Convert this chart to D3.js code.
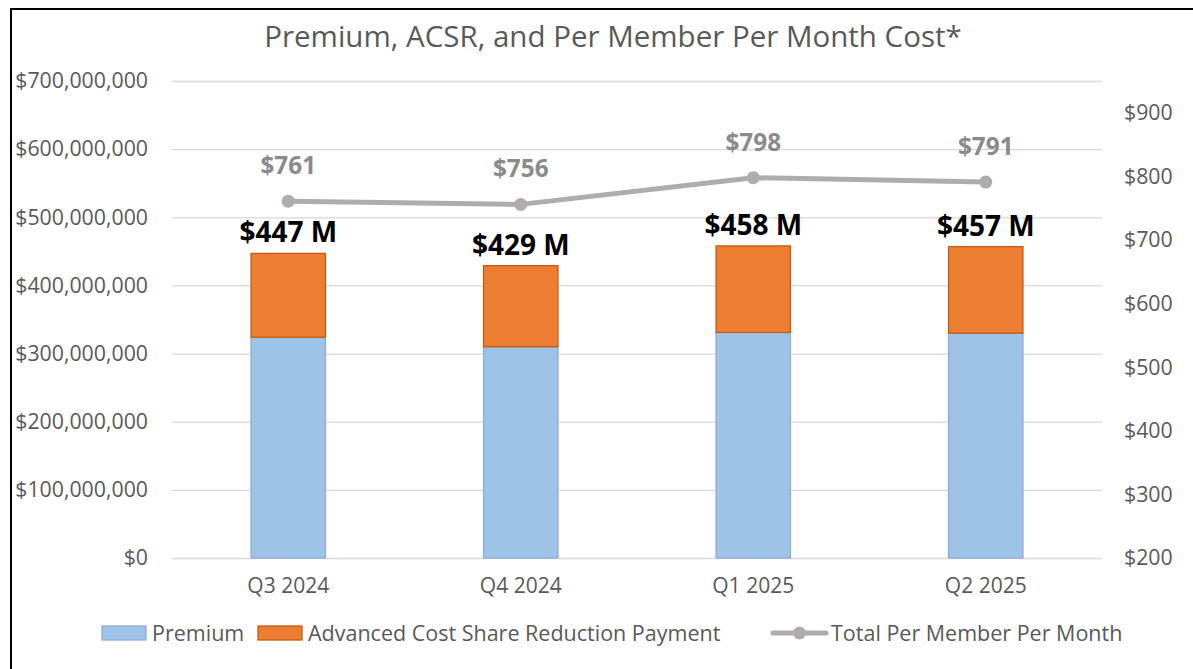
<!DOCTYPE html>
<html>
<head>
<meta charset="utf-8">
<script src="https://cdn.jsdelivr.net/npm/d3@7"></script>
<style>
    body { margin: 0; background: #fff; }
    svg text { font-family: "Open Sans", "Noto Sans", sans-serif; }
</style>
</head>
<body>
<div id="chart"></div>
<script>
// Data
const quarters = ["Q3 2024", "Q4 2024", "Q1 2025", "Q2 2025"];
const premium = [324e6, 310e6, 331e6, 330e6];
const acsr = [123e6, 119e6, 127e6, 127e6];
const totalLabels = ["$447 M", "$429 M", "$458 M", "$457 M"];
const pmpm = [761, 756, 798, 791];
const leftTicks = [0, 1e8, 2e8, 3e8, 4e8, 5e8, 6e8, 7e8];
const rightTicks = [200, 300, 400, 500, 600, 700, 800, 900];

const width = 1193, height = 669;
const margin = { top: 81, right: 91, bottom: 111, left: 172 };

const colors = {
    premium: "#9DC3E6", premiumStroke: "#8FAADC",
    acsr: "#ED7D31", acsrStroke: "#C55A11",
    line: "#B0ACAC", lineLabel: "#8C8A8A",
    text: "#595959", grid: "#D9D9D9"
};

const svg = d3.select("#chart").append("svg")
    .attr("width", width)
    .attr("height", height);

// frame
svg.append("rect")
    .attr("x", 11).attr("y", 9)
    .attr("width", width + 10).attr("height", height + 10)
    .attr("fill", "none")
    .attr("stroke", "#000")
    .attr("stroke-width", 2);

const x = d3.scaleBand()
    .domain(quarters)
    .range([margin.left, width - margin.right])
    .paddingInner(0.68)
    .paddingOuter(0.34);

const y = d3.scaleLinear()
    .domain([0, 7e8])
    .range([height - margin.bottom, margin.top]);

const y2 = d3.scaleLinear()
    .domain([200, 950])
    .range([height - margin.bottom, margin.top]);

// title
svg.append("text")
    .attr("x", 613).attr("y", 47)
    .attr("text-anchor", "middle")
    .attr("font-size", 29.5)
    .attr("fill", colors.text)
    .text("Premium, ACSR, and Per Member Per Month Cost*");

// gridlines + left axis
const fmtLeft = d => "$" + d3.format(",")(d);
svg.append("g")
    .attr("transform", `translate(${margin.left},0)`)
    .call(d3.axisLeft(y).tickValues(leftTicks).tickFormat(fmtLeft)
        .tickSize(-(width - margin.left - margin.right)).tickPadding(24))
    .call(g => g.select(".domain").remove())
    .call(g => g.selectAll(".tick line").attr("stroke", colors.grid).attr("stroke-width", 1.3))
    .call(g => g.selectAll(".tick text").attr("font-size", 21.3).attr("fill", colors.text));

// right axis
svg.append("g")
    .attr("transform", `translate(${width - margin.right},0)`)
    .call(d3.axisRight(y2).tickValues(rightTicks).tickFormat(d => "$" + d)
        .tickSize(0).tickPadding(22))
    .call(g => g.select(".domain").remove())
    .call(g => g.selectAll(".tick text").attr("font-size", 21.3).attr("fill", colors.text));

// bottom axis
svg.append("g")
    .attr("transform", `translate(0,${height - margin.bottom})`)
    .call(d3.axisBottom(x).tickSize(0).tickPadding(20))
    .call(g => g.select(".domain").remove())
    .call(g => g.selectAll(".tick text").attr("font-size", 21).attr("fill", colors.text));

// bars
const bars = svg.append("g");
bars.selectAll("rect.premium")
    .data(quarters)
    .join("rect")
    .attr("class", "premium")
    .attr("x", d => x(d))
    .attr("width", x.bandwidth())
    .attr("y", (d, i) => y(premium[i]))
    .attr("height", (d, i) => y(0) - y(premium[i]))
    .attr("fill", colors.premium)
    .attr("stroke", colors.premiumStroke)
    .attr("stroke-width", 1.3);

bars.selectAll("rect.acsr")
    .data(quarters)
    .join("rect")
    .attr("class", "acsr")
    .attr("x", d => x(d))
    .attr("width", x.bandwidth())
    .attr("y", (d, i) => y(premium[i] + acsr[i]))
    .attr("height", (d, i) => y(premium[i]) - y(premium[i] + acsr[i]))
    .attr("fill", colors.acsr)
    .attr("stroke", colors.acsrStroke)
    .attr("stroke-width", 1.3);

bars.selectAll("text")
    .data(quarters)
    .join("text")
    .attr("x", d => x(d) + x.bandwidth() / 2)
    .attr("y", (d, i) => y(premium[i] + acsr[i]) - 11)
    .attr("text-anchor", "middle")
    .attr("font-size", 28)
    .attr("font-weight", "bold")
    .attr("fill", "#000")
    .text((d, i) => totalLabels[i]);

// line
const cx = d => x(d) + x.bandwidth() / 2;
const line = d3.line()
    .x((d, i) => cx(quarters[i]))
    .y(d => y2(d));

svg.append("path")
    .datum(pmpm)
    .attr("d", line)
    .attr("fill", "none")
    .attr("stroke", colors.line)
    .attr("stroke-width", 5)
    .attr("stroke-linejoin", "round")
    .attr("stroke-linecap", "round");

svg.append("g").selectAll("circle")
    .data(pmpm)
    .join("circle")
    .attr("cx", (d, i) => cx(quarters[i]))
    .attr("cy", d => y2(d))
    .attr("r", 6.5)
    .attr("fill", colors.line);

svg.append("g").selectAll("text")
    .data(pmpm)
    .join("text")
    .attr("x", (d, i) => cx(quarters[i]))
    .attr("y", d => y2(d) - 27)
    .attr("text-anchor", "middle")
    .attr("font-size", 24.3)
    .attr("font-weight", "bold")
    .attr("fill", colors.lineLabel)
    .text(d => "$" + d);

// legend
const legendY = 633;
const legend = svg.append("g");
const items = [
    { x: 102, label: "Premium", type: "rect", fill: colors.premium, stroke: colors.premiumStroke },
    { x: 258, label: "Advanced Cost Share Reduction Payment", type: "rect", fill: colors.acsr, stroke: colors.acsrStroke },
    { x: 773, label: "Total Per Member Per Month", type: "line" }
];
items.forEach(it => {
    if (it.type === "rect") {
        legend.append("rect")
            .attr("x", it.x).attr("y", legendY - 7)
            .attr("width", 44).attr("height", 14)
            .attr("fill", it.fill).attr("stroke", it.stroke).attr("stroke-width", 1.3);
    } else {
        legend.append("line")
            .attr("x1", it.x).attr("x2", it.x + 53)
            .attr("y1", legendY).attr("y2", legendY)
            .attr("stroke", colors.line).attr("stroke-width", 5)
            .attr("stroke-linecap", "round");
        legend.append("circle")
            .attr("cx", it.x + 26.5).attr("cy", legendY)
            .attr("r", 6.5).attr("fill", colors.line);
    }
    legend.append("text")
        .attr("x", it.x + (it.type === "rect" ? 50 : 58))
        .attr("y", legendY)
        .attr("dy", "0.35em")
        .attr("font-size", 21.5)
        .attr("fill", colors.text)
        .text(it.label);
});
</script>
</body>
</html>
